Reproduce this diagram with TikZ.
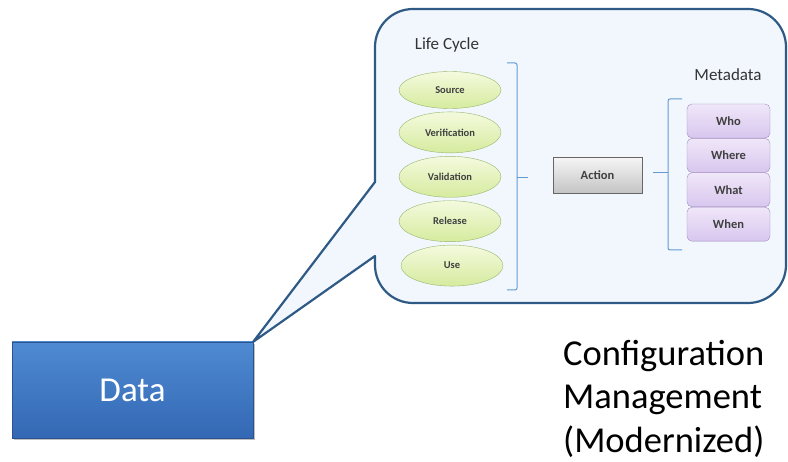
\documentclass[tikz,border=0pt]{standalone}
\usepackage{fontspec}
\setmainfont{Carlito}
\definecolor{calloutblue}{RGB}{47, 90, 134}
\definecolor{calloutfill}{RGB}{241, 247, 253}
\definecolor{leaftop}{RGB}{244, 250, 222}
\definecolor{leafbot}{RGB}{214, 235, 158}
\definecolor{leafedge}{RGB}{150, 182, 108}
\definecolor{lilactop}{RGB}{240, 231, 249}
\definecolor{lilacbot}{RGB}{216, 198, 238}
\definecolor{lilacedge}{RGB}{160, 140, 192}
\definecolor{ashtop}{RGB}{246, 246, 246}
\definecolor{ashbot}{RGB}{196, 196, 196}
\definecolor{datatop}{RGB}{78, 138, 210}
\definecolor{databot}{RGB}{52, 104, 180}
\definecolor{brackblue}{RGB}{98, 154, 212}
\usepackage{tikz}
\usetikzlibrary{shapes.geometric, positioning, shadows}

\tikzset{
  phase/.style={ellipse, draw=leafedge, top color=leaftop, bottom color=leafbot, minimum width=102pt, minimum height=41pt, inner sep=0pt, text=black!75, font=\fontsize{10.5}{13}\selectfont\bfseries},
  metabox/.style={rectangle, rounded corners=5pt, draw=lilacedge, top color=lilactop, bottom color=lilacbot, minimum width=83pt, minimum height=34pt, inner sep=0pt, text=black!75, font=\fontsize{12.5}{15}\selectfont\bfseries},
  brack/.style={draw=brackblue, line width=1pt, rounded corners=2pt},
}

\begin{document}
\begin{tikzpicture}[x=1pt, y=-1pt]
  \useasboundingbox (0,0) rectangle (788,462);

  % Data
  \node[draw=databot!80!black, top color=datatop, bottom color=databot, drop shadow, minimum width=241pt, minimum height=96pt, text=white, font=\fontsize{35}{40}\selectfont] (data) at (132.5,390) {Data};

  % Callout
  \draw[draw=calloutblue, fill=calloutfill, line width=2.2pt, line join=round] (data.north east) -- (375,256) [rounded corners=38pt] -- (375,303) -- (786,303) -- (786,9) -- (375,9) [sharp corners] -- (375,182) -- cycle;

  % Life cycle
  \node[font=\fontsize{17}{20}\selectfont, text=black!80] (lifecycle) at (447,45) {Life Cycle};
  \node[phase, minimum height=37pt] (source) at (450,90) {Source};
  \node[phase, below=3pt of source] (verif) {Verification};
  \node[phase, below=3pt of verif] (valid) {Validation};
  \node[phase, below=3pt of valid] (release) {Release};
  \node[phase, below=3pt of release, xshift=2pt] (use) {Use};
  \draw[brack] (507,63) -- (517,63) -- (517,290) -- (507,290);
  \draw[brack] (517,178) -- (528,178);

  % Action
  \node[draw=black!60, top color=ashtop, bottom color=ashbot, minimum width=89pt, minimum height=36pt, inner sep=0pt, text=black!75, font=\fontsize{12.5}{15}\selectfont\bfseries] (action) at (597.5,175) {Action};

  % Metadata
  \node[font=\fontsize{17}{20}\selectfont, text=black!80] (metadata) at (728,75) {Metadata};
  \node[metabox] (who) at (728.5,121) {Who};
  \node[metabox, below=0pt of who] (where) {Where};
  \node[metabox, below=0pt of where] (what) {What};
  \node[metabox, below=0pt of what] (when) {When};
  \draw[brack] (682,99) -- (668,99) -- (668,250) -- (682,250);
  \draw[brack] (668,173) -- (653,173);

  % Caption
  \node[anchor=north west, align=left, inner sep=0pt, font=\fontsize{36.5}{43.5}\selectfont] (caption) at (563,340) {Configuration\\Management\\(Modernized)};
\end{tikzpicture}
\end{document}
